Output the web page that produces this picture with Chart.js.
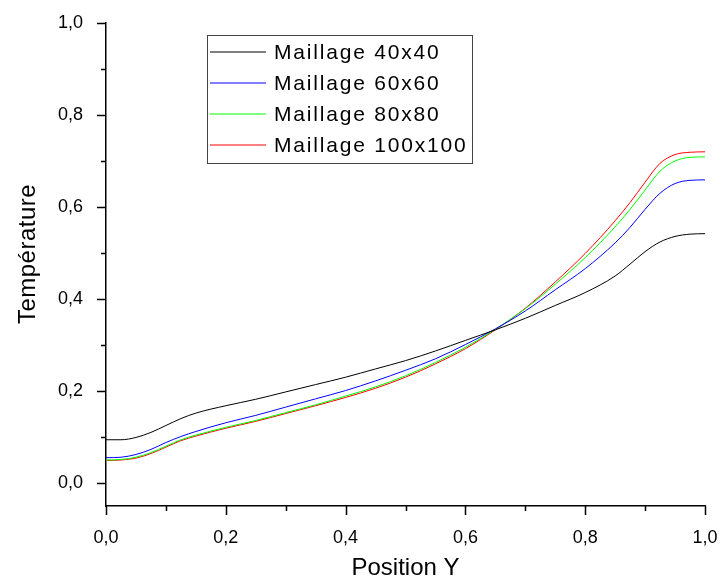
<!DOCTYPE html>
<html>
<head>
<meta charset="utf-8">
<script src="https://cdn.jsdelivr.net/npm/chart.js@4"></script>
<style>
  html, body { margin: 0; padding: 0; background: #fff; }
  #wrap { width: 723px; height: 580px; }
</style>
</head>
<body>
<div id="wrap"><canvas id="chart" width="723" height="580"></canvas></div>
<script>
const positions = [0, 0.025, 0.05, 0.075, 0.1, 0.125, 0.15, 0.2, 0.25, 0.3, 0.35, 0.4, 0.45, 0.5,
  0.55, 0.6, 0.65, 0.7, 0.75, 0.8, 0.85, 0.875, 0.9, 0.925, 0.95, 0.975, 1.0];

const mesh40 = [0.094, 0.094, 0.099, 0.110, 0.125, 0.140, 0.152, 0.168, 0.182, 0.198, 0.214, 0.230, 0.248, 0.266,
  0.287, 0.310, 0.333, 0.358, 0.386, 0.414, 0.450, 0.476, 0.503, 0.524, 0.536, 0.541, 0.542];
const mesh60 = [0.055, 0.056, 0.062, 0.073, 0.088, 0.101, 0.112, 0.131, 0.147, 0.165, 0.183, 0.201, 0.222, 0.245,
  0.270, 0.301, 0.335, 0.374, 0.420, 0.466, 0.522, 0.556, 0.595, 0.630, 0.651, 0.658, 0.659];
const mesh80 = [0.050, 0.051, 0.056, 0.066, 0.080, 0.094, 0.104, 0.121, 0.136, 0.153, 0.170, 0.189, 0.209, 0.233,
  0.262, 0.295, 0.334, 0.379, 0.432, 0.490, 0.557, 0.595, 0.637, 0.678, 0.700, 0.708, 0.709];
const mesh100 = [0.049, 0.050, 0.054, 0.064, 0.078, 0.092, 0.102, 0.119, 0.134, 0.151, 0.168, 0.186, 0.206, 0.230,
  0.259, 0.292, 0.333, 0.380, 0.437, 0.499, 0.570, 0.610, 0.654, 0.695, 0.714, 0.719, 0.720];

const seriesNames = ['Maillage 40x40', 'Maillage 60x60', 'Maillage 80x80', 'Maillage 100x100'];
const seriesColors = ['#000000', '#0000ff', '#00ff00', '#ff0000'];

const xTicks = [0, 0.1, 0.2, 0.3, 0.4, 0.5, 0.6, 0.7, 0.8, 0.9, 1.0];
const yTicks = [0, 0.1, 0.2, 0.3, 0.4, 0.5, 0.6, 0.7, 0.8, 0.9, 1.0];

const FONT = '"Liberation Sans", Arial, sans-serif';

function toPoints(ys) {
  return positions.map((x, i) => ({ x: x, y: ys[i] }));
}

function isMajor(v) {
  return Math.round(v * 10) % 2 === 0;
}

function fmt(v) {
  return v.toFixed(1).replace('.', ',');
}

function noPadding(s) {
  s.paddingTop = s.paddingBottom = s.paddingLeft = s.paddingRight = 0;
}

// outer tick marks, long on labelled values, short in between
const tickMarks = {
  id: 'tickMarks',
  afterDraw(chart) {
    const ctx = chart.ctx;
    const xs = chart.scales.x, ys = chart.scales.y;
    const area = chart.chartArea;
    ctx.save();
    ctx.strokeStyle = '#000';
    ctx.lineWidth = 1.5;
    ctx.beginPath();
    xTicks.forEach(v => {
      const px = Math.round(xs.getPixelForValue(v)) + 0.5;
      ctx.moveTo(px, area.bottom);
      ctx.lineTo(px, area.bottom + (isMajor(v) ? 9 : 5));
    });
    yTicks.forEach(v => {
      const py = Math.round(ys.getPixelForValue(v)) + 0.5;
      ctx.moveTo(area.left, py);
      ctx.lineTo(area.left - (isMajor(v) ? 9 : 5), py);
    });
    ctx.stroke();

    // y title, sits a little above the middle of the axis
    ctx.letterSpacing = '0.5px';
    ctx.fillStyle = '#000';
    ctx.font = '24px ' + FONT;
    ctx.textAlign = 'center';
    ctx.textBaseline = 'alphabetic';
    ctx.translate(35, 254);
    ctx.rotate(-Math.PI / 2);
    ctx.fillText('Température', 0, 0);
    ctx.restore();
  }
};

// boxed legend inside the plot
const boxLegend = {
  id: 'boxLegend',
  afterDraw(chart) {
    const ctx = chart.ctx;
    const bx = 207, by = 35, bw = 265, bh = 128;
    ctx.save();
    ctx.fillStyle = '#fff';
    ctx.fillRect(bx, by, bw, bh);
    ctx.strokeStyle = '#444';
    ctx.lineWidth = 1;
    ctx.strokeRect(bx + 0.5, by + 0.5, bw, bh);
    ctx.font = '21px ' + FONT;
    ctx.letterSpacing = '1.8px';
    ctx.textBaseline = 'middle';
    chart.data.datasets.forEach((ds, i) => {
      const ry = 52 + i * 31;
      ctx.strokeStyle = seriesColors[i];
      ctx.lineWidth = 1;
      ctx.beginPath();
      ctx.moveTo(210, ry);
      ctx.lineTo(266, ry);
      ctx.stroke();
      ctx.fillStyle = '#000';
      ctx.fillText(ds.label, 274, ry + 1);
    });
    ctx.restore();
  }
};

new Chart(document.getElementById('chart'), {
  type: 'line',
  data: {
    datasets: seriesNames.map((name, i) => ({
      label: name,
      data: toPoints([mesh40, mesh60, mesh80, mesh100][i]),
      borderColor: seriesColors[i],
      borderWidth: 1,
      pointRadius: 0,
      cubicInterpolationMode: 'monotone',
      fill: false
    }))
  },
  options: {
    responsive: false,
    animation: false,
    layout: { padding: { top: 23, right: 18, left: 0, bottom: 0 } },
    plugins: {
      legend: { display: false },
      tooltip: { enabled: false }
    },
    scales: {
      x: {
        type: 'linear',
        min: 0,
        max: 1,
        afterBuildTicks: s => { s.ticks = xTicks.map(v => ({ value: v })); },
        afterFit: s => { s.height = 74; noPadding(s); },
        grid: { display: false },
        border: { display: true, color: '#000', width: 1.5 },
        ticks: {
          autoSkip: false,
          maxRotation: 0,
          padding: 13,
          color: '#000',
          font: { family: FONT, size: 18 },
          callback: v => isMajor(v) ? fmt(v) : ''
        },
        title: {
          display: true,
          text: 'Position Y',
          color: '#000',
          font: { family: FONT, size: 24, lineHeight: 1 },
          padding: { top: 0, bottom: 0 }
        }
      },
      y: {
        type: 'linear',
        min: -0.05,
        max: 1.0,
        afterBuildTicks: s => { s.ticks = yTicks.map(v => ({ value: v })); },
        afterFit: s => { s.width = 106; noPadding(s); },
        grid: { display: false },
        border: { display: true, color: '#000', width: 1.5 },
        ticks: {
          autoSkip: false,
          padding: 15,
          color: '#000',
          font: { family: FONT, size: 18 },
          callback: v => isMajor(v) ? fmt(v) : ''
        }
      }
    }
  },
  plugins: [tickMarks, boxLegend]
});
</script>
</body>
</html>
